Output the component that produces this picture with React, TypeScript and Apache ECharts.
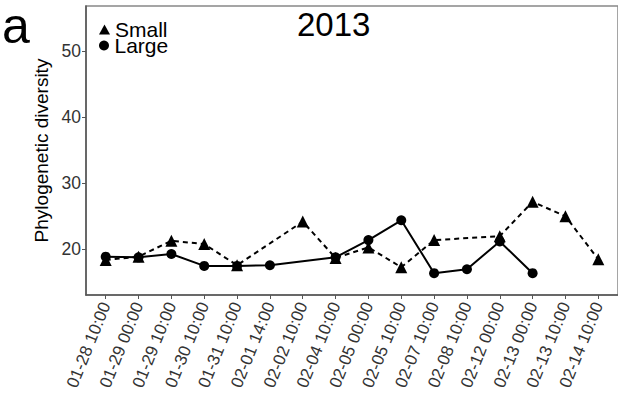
import React, { useEffect, useRef } from "react";
import * as echarts from "echarts";

const categories = [
  "01-28 10:00", "01-29 00:00", "01-29 10:00", "01-30 10:00", "01-31 10:00",
  "02-01 14:00", "02-02 10:00", "02-04 10:00", "02-05 00:00", "02-05 10:00",
  "02-07 10:00", "02-08 10:00", "02-12 00:00", "02-13 00:00", "02-13 10:00",
  "02-14 10:00",
];
const smallValues: (number | null)[] = [
  18.4, 18.9, 21.3, 20.8, 17.6, null, 24.2, 18.7, 20.3, 17.3, 21.4, null, 22.0, 27.2, 25.0, 18.5,
];
const largeValues: (number | null)[] = [
  18.9, 18.8, 19.3, 17.5, 17.5, 17.6, null, 18.8, 21.4, 24.4, 16.4, 17.0, 21.2, 16.4, null, null,
];
const yTicks = [20, 30, 40, 50];

const FONT = "Liberation Sans, Arial, sans-serif";

function toData(vals: (number | null)[]) {
  const out: [number, number][] = [];
  vals.forEach((v, i) => {
    if (v !== null) out.push([i, v]);
  });
  return out;
}

export default function App() {
  const ref = useRef<HTMLDivElement>(null);
  useEffect(() => {
    if (!ref.current) return;
    const chart = echarts.init(ref.current, null, { renderer: "svg" });
    const idx = categories.map((_, i) => i);
    const legendBase = {
      orient: "vertical",
      left: 99,
      padding: 0,
      itemGap: 0,
      itemWidth: 11,
      itemHeight: 10,
      textStyle: { fontFamily: FONT, fontSize: 21, lineHeight: 16, color: "#000" },
    };
    chart.setOption({
      animation: false,
      backgroundColor: "#fff",
      title: [
        {
          text: "a",
          left: 2,
          top: 11,
          padding: 0,
          textStyle: { fontFamily: FONT, fontSize: 50, lineHeight: 30, fontWeight: "normal", color: "#000" },
        },
        {
          text: "2013",
          left: 292,
          top: 3,
          textStyle: { fontFamily: FONT, fontSize: 33, fontWeight: "normal", color: "#000" },
        },
      ],
      legend: [
        { ...legendBase, top: 19, data: [{ name: "Small", icon: "triangle" }] },
        { ...legendBase, top: 35, data: [{ name: "Large", icon: "circle" }] },
      ],
      grid: { left: 86, top: 6, width: 536, height: 289, show: true, borderColor: "#888", borderWidth: 1.5 },
      xAxis: {
        type: "value",
        min: -0.6,
        max: 15.6,
        splitLine: { show: false },
        axisLine: { show: true, onZero: false, lineStyle: { color: "#555", width: 1.5 } },
        axisTick: { show: true, length: 4, customValues: idx, lineStyle: { color: "#555" } },
        axisLabel: {
          customValues: idx,
          rotate: 68,
          margin: 8,
          fontFamily: FONT,
          fontSize: 17,
          color: "#333",
          formatter: (v: number) => categories[Math.round(v)] ?? "",
        },
      },
      yAxis: {
        type: "value",
        min: 13.1,
        max: 56.8,
        name: "Phylogenetic diversity",
        nameLocation: "middle",
        nameGap: 35,
        nameTextStyle: { fontFamily: FONT, fontSize: 19, color: "#000" },
        splitLine: { show: false },
        axisLine: { show: true, onZero: false, lineStyle: { color: "#555", width: 1.5 } },
        axisTick: { show: true, length: 4, customValues: yTicks, lineStyle: { color: "#555" } },
        axisLabel: {
          customValues: yTicks,
          margin: 5,
          fontFamily: FONT,
          fontSize: 17.5,
          color: "#333",
        },
      },
      series: [
        {
          name: "Small",
          type: "line",
          data: toData(smallValues),
          symbol: "triangle",
          symbolSize: 12,
          itemStyle: { color: "#000" },
          lineStyle: { color: "#000", width: 2, type: [5, 4] },
          connectNulls: true,
        },
        {
          name: "Large",
          type: "line",
          data: toData(largeValues),
          symbol: "circle",
          symbolSize: 10,
          itemStyle: { color: "#000" },
          lineStyle: { color: "#000", width: 2 },
          connectNulls: true,
        },
      ],
    });
    return () => chart.dispose();
  }, []);
  return <div ref={ref} style={{ width: 618, height: 403, position: "absolute", left: 0, top: 0 }} />;
}
